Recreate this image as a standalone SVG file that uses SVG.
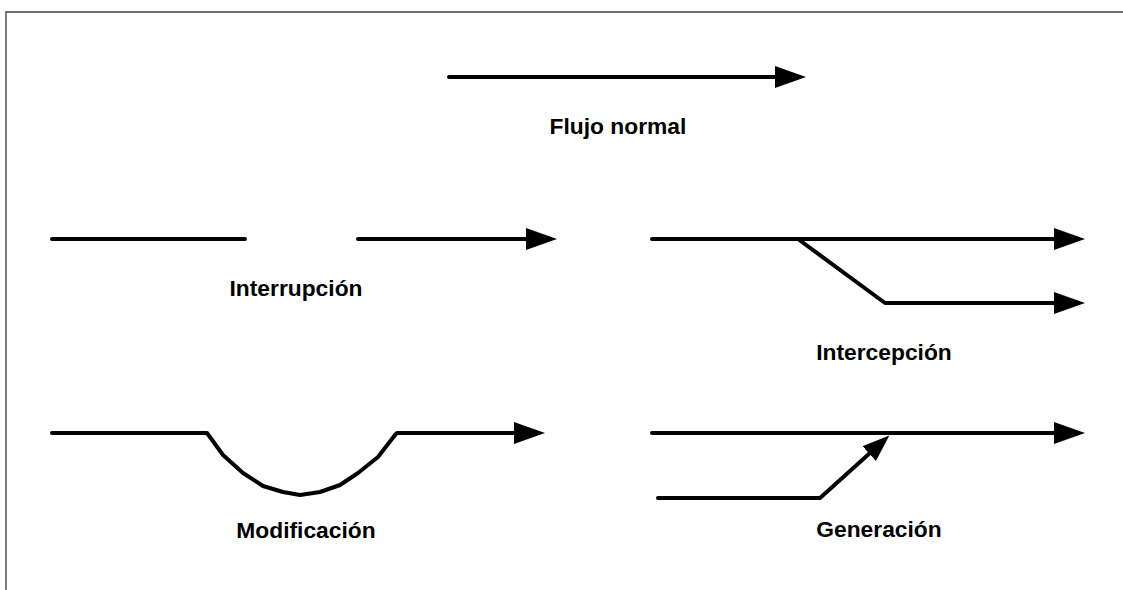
<svg xmlns="http://www.w3.org/2000/svg" width="1123" height="590" viewBox="0 0 1123 590">
<style>
.ln{fill:none;stroke:#000;stroke-width:4;stroke-linecap:round;stroke-linejoin:round}
.lbl{font-family:"Liberation Sans",Arial,sans-serif;font-weight:bold;font-size:22.8px;fill:#000;text-anchor:middle}
.frame{fill:none;stroke:#6e6e6e;stroke-width:1.8}
</style>
<defs>
<marker id="ah" markerUnits="userSpaceOnUse" markerWidth="32" markerHeight="24" refX="1" refY="11" orient="auto">
<path d="M0,0 L31,11 L0,22 Z" fill="#000"/>
</marker>
<marker id="ah2" markerUnits="userSpaceOnUse" markerWidth="28" markerHeight="24" refX="1" refY="10" orient="auto">
<path d="M0,0 L27,10 L0,20 Z" fill="#000"/>
</marker>
</defs>
<rect width="1123" height="590" fill="#fff"/>
<path class="frame" d="M6,590 L6,12 L1123,12"/>
<g id="connectors">
<path class="ln" d="M449,77 L776,77" marker-end="url(#ah)"/>
<path class="ln" d="M52,239 L245,239"/>
<path class="ln" d="M358,239 L527,239" marker-end="url(#ah)"/>
<path class="ln" d="M652,239 L1055,239" marker-end="url(#ah)"/>
<path class="ln" d="M798,239 L885,303 L1055,303" marker-end="url(#ah)"/>
<path class="ln" d="M52,433 L207,433 L223,455 L243,473 L263,486 L283,492 L300,495 L320,492 L340,485 L358,473 L378,457 L395,435 L397,433 L515,433" marker-end="url(#ah)"/>
<path class="ln" d="M652,433 L1055,433" marker-end="url(#ah)"/>
<path class="ln" d="M658,498 L820,498 L870,453" marker-end="url(#ah2)"/>
</g>
<g id="flujo-normal"><text class="lbl" x="618" y="134">Flujo normal</text></g>
<g id="interrupcion"><text class="lbl" x="296" y="296">Interrupción</text></g>
<g id="intercepcion"><text class="lbl" x="884" y="360">Intercepción</text></g>
<g id="modificacion"><text class="lbl" x="306" y="538">Modificación</text></g>
<g id="generacion"><text class="lbl" x="879" y="537">Generación</text></g>
</svg>
